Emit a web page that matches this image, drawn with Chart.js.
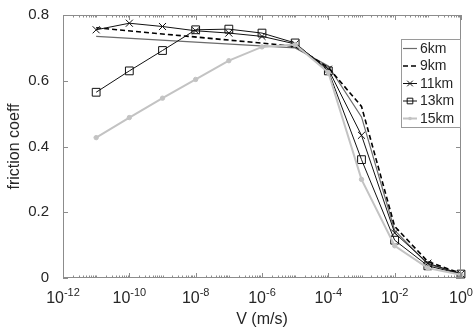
<!DOCTYPE html>
<html>
<head>
<meta charset="utf-8">
<script src="https://cdn.jsdelivr.net/npm/chart.js@4.4.1/dist/chart.umd.min.js"></script>
<style>
  html, body { margin: 0; padding: 0; background: #fff; }
  #wrap { width: 474px; height: 329px; }
</style>
</head>
<body>
<div id="wrap"><canvas id="chart" width="474" height="329"></canvas></div>
<script>
// slip rate (m/s) of each sample
var speeds = [1e-11, 1e-10, 1e-9, 1e-8, 1e-7, 1e-6, 1e-5, 1e-4, 1e-3, 1e-2, 1e-1, 1];

// friction coefficient per depth (null = no sample, line spans across)
var f6km  = [0.735, null, null, null, null, null, 0.700, 0.645, 0.490, 0.145, 0.042, 0.013];
var f9km  = [0.761, null, null, null, null, null, 0.705, 0.640, 0.522, 0.157, 0.050, 0.014];
var f11km = [0.755, 0.775, 0.765, 0.752, 0.745, 0.735, 0.712, 0.635, 0.434, 0.137, 0.045, 0.012];
var f13km = [0.565, 0.630, 0.692, 0.755, 0.757, 0.745, 0.715, 0.630, 0.360, 0.115, 0.037, 0.012];
var f15km = [0.427, 0.488, 0.547, 0.604, 0.661, 0.703, 0.710, 0.625, 0.300, 0.098, 0.030, 0.010];

var seriesNames = ['6km', '9km', '11km', '13km', '15km'];
var xTickExps = [-12, -10, -8, -6, -4, -2, 0];
var yTicks = [0, 0.2, 0.4, 0.6, 0.8];

var axisColor = '#8c8c8c';
var textColor = '#262626';
var fontFamily = "'Liberation Sans', Arial, Helvetica, sans-serif";

function toPoints(values) {
    return speeds.map(function (s, i) { return { x: s, y: values[i] }; });
}

var styles = [
    { color: '#6b6b6b', width: 1.2, dash: [], point: false, radius: 0 },
    { color: '#000000', width: 1.6, dash: [5, 3], point: false, radius: 0 },
    { color: '#111111', width: 1, dash: [], point: 'crossRot', radius: 5 },
    { color: '#111111', width: 1, dash: [], point: 'rect', radius: 5.5 },
    { color: '#c3c3c3', width: 2, dash: [], point: 'circle', radius: 2.2 }
];
var seriesValues = [f6km, f9km, f11km, f13km, f15km];

var datasets = seriesValues.map(function (vals, i) {
    var st = styles[i];
    return {
        label: seriesNames[i],
        data: toPoints(vals),
        borderColor: st.color,
        borderWidth: st.width,
        borderDash: st.dash,
        pointStyle: st.point || 'circle',
        pointRadius: st.radius,
        pointBorderColor: st.color,
        pointBackgroundColor: st.point === 'circle' ? st.color : 'rgba(0,0,0,0)',
        pointBorderWidth: 1,
        spanGaps: true,
        tension: 0,
        fill: false,
        clip: false,
        order: 5 - i
    };
});

function drawMarker(ctx, style, x, y, r) {
    ctx.beginPath();
    if (style === 'crossRot') {
        var d = r * 0.707;
        ctx.moveTo(x - d, y - d); ctx.lineTo(x + d, y + d);
        ctx.moveTo(x - d, y + d); ctx.lineTo(x + d, y - d);
        ctx.stroke();
    } else if (style === 'rect') {
        var h = r * 0.707;
        ctx.rect(x - h, y - h, 2 * h, 2 * h);
        ctx.stroke();
    } else if (style === 'circle') {
        ctx.arc(x, y, r, 0, Math.PI * 2);
        ctx.fill();
    }
}

var framePlugin = {
    id: 'frame',
    afterDraw: function (chart) {
        var ctx = chart.ctx;
        var a = chart.chartArea;
        var xs = chart.scales.x;
        var ys = chart.scales.y;
        ctx.save();
        ctx.strokeStyle = axisColor;
        ctx.lineWidth = 1;
        ctx.setLineDash([]);
        ctx.strokeRect(a.left + 0.5, a.top + 0.5, a.right - a.left - 1, a.bottom - a.top - 1);

        // x ticks, major and minor, bottom and top
        ctx.beginPath();
        for (var e = -12; e <= 0; e++) {
            for (var m = 1; m <= 9; m++) {
                if (e === 0 && m > 1) break;
                var v = m * Math.pow(10, e);
                var px = Math.round(xs.getPixelForValue(v)) + 0.5;
                var major = m === 1 && xTickExps.indexOf(e) >= 0;
                var len = major ? 5 : 2.5;
                ctx.moveTo(px, a.bottom); ctx.lineTo(px, a.bottom - len);
                ctx.moveTo(px, a.top); ctx.lineTo(px, a.top + len);
            }
        }
        // y ticks, left and right
        yTicks.forEach(function (t) {
            var py = Math.round(ys.getPixelForValue(t)) + 0.5;
            ctx.moveTo(a.left, py); ctx.lineTo(a.left + 5, py);
            ctx.moveTo(a.right, py); ctx.lineTo(a.right - 5, py);
        });
        ctx.stroke();

        // x tick labels as 10 with superscript exponent
        ctx.fillStyle = textColor;
        ctx.textBaseline = 'alphabetic';
        ctx.textAlign = 'left';
        xTickExps.forEach(function (ex) {
            var px = xs.getPixelForValue(Math.pow(10, ex));
            var base = '10';
            var sup = String(ex);
            ctx.font = '16px ' + fontFamily;
            var wb = ctx.measureText(base).width;
            ctx.font = '11px ' + fontFamily;
            var ws = ctx.measureText(sup).width;
            var x0 = px - (wb + ws) / 2;
            ctx.font = '16px ' + fontFamily;
            ctx.fillText(base, x0, 303);
            ctx.font = '11px ' + fontFamily;
            ctx.fillText(sup, x0 + wb, 296);
        });

        // legend box
        var lx = 401, ly = 39, lw = 59, lh = 88;
        ctx.fillStyle = '#ffffff';
        ctx.fillRect(lx, ly, lw, lh);
        ctx.strokeStyle = '#9a9a9a';
        ctx.strokeRect(lx + 0.5, ly + 0.5, lw, lh);
        seriesNames.forEach(function (name, i) {
            var st = styles[i];
            var cy = ly + 9.5 + i * 17.5;
            ctx.strokeStyle = st.color;
            ctx.fillStyle = st.color;
            ctx.lineWidth = st.width;
            ctx.setLineDash(st.dash);
            ctx.beginPath();
            ctx.moveTo(lx + 2, cy); ctx.lineTo(lx + 16, cy);
            ctx.stroke();
            ctx.setLineDash([]);
            ctx.lineWidth = 1;
            if (st.point) drawMarker(ctx, st.point, lx + 9, cy, st.point === 'circle' ? 1.8 : 4);
            ctx.fillStyle = textColor;
            ctx.font = '14px ' + fontFamily;
            ctx.textBaseline = 'middle';
            ctx.fillText(name, lx + 19, cy + 0.5);
        });
        ctx.restore();
    }
};

new Chart(document.getElementById('chart').getContext('2d'), {
    type: 'line',
    data: { datasets: datasets },
    options: {
        responsive: false,
        devicePixelRatio: 1,
        animation: false,
        layout: { autoPadding: false, padding: { top: 8, right: 13, left: 0, bottom: 0 } },
        plugins: {
            legend: { display: false },
            tooltip: { enabled: false }
        },
        scales: {
            x: {
                type: 'logarithmic',
                min: 1e-12,
                max: 1,
                grid: { display: false },
                border: { display: false },
                ticks: { display: false },
                afterBuildTicks: function (scale) {
                    scale.ticks = xTickExps.map(function (e) { return { value: Math.pow(10, e) }; });
                },
                afterFit: function (scale) { scale.height = 51; },
                title: {
                    display: true,
                    text: 'V (m/s)',
                    color: textColor,
                    font: { family: fontFamily, size: 16 },
                    padding: { top: 0, bottom: 0 }
                }
            },
            y: {
                min: 0,
                max: 0.8,
                grid: { display: false },
                border: { display: false },
                afterBuildTicks: function (scale) {
                    scale.ticks = yTicks.map(function (v) { return { value: v }; });
                },
                ticks: {
                    padding: 6,
                    color: textColor,
                    font: { family: fontFamily, size: 15 },
                    callback: function (value) { return value === 0 ? '0' : Number(value).toFixed(1); }
                },
                afterFit: function (scale) { scale.width = 63; },
                title: {
                    display: true,
                    text: 'friction coeff',
                    color: textColor,
                    font: { family: fontFamily, size: 16 },
                    padding: { top: 5, bottom: 0 }
                }
            }
        }
    },
    plugins: [framePlugin]
});
</script>
</body>
</html>
